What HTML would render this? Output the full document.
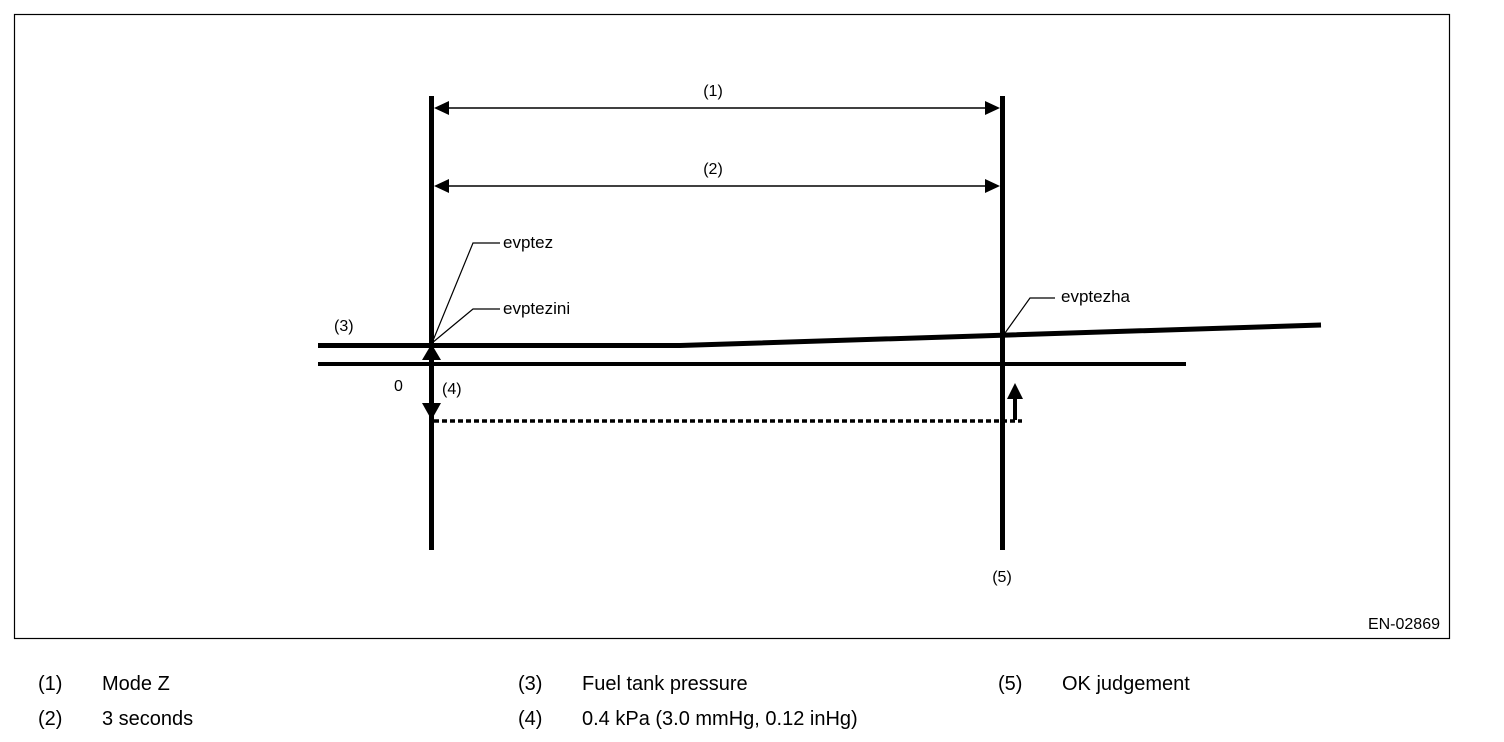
<!DOCTYPE html>
<html><head><style>
body{margin:0;background:#fff;width:1504px;height:742px;overflow:hidden;font-family:"Liberation Sans",Arial,sans-serif}
svg{position:absolute;left:0;top:0}
</style></head><body>
<svg width="1504" height="742" xmlns="http://www.w3.org/2000/svg" font-family="Liberation Sans, Arial, sans-serif">
<rect x="14.5" y="14.5" width="1435" height="624" fill="none" stroke="#000" stroke-width="1.2"/>
<!-- verticals -->
<rect x="429" y="96" width="5" height="454" fill="#000"/>
<rect x="1000" y="96" width="5" height="454" fill="#000"/>
<!-- dimension arrows -->
<line x1="440" y1="108" x2="994" y2="108" stroke="#000" stroke-width="1.5"/>
<polygon points="434,108 449,101 449,115" fill="#000"/>
<polygon points="1000,108 985,101 985,115" fill="#000"/>
<line x1="440" y1="186" x2="994" y2="186" stroke="#000" stroke-width="1.5"/>
<polygon points="434,186 449,179 449,193" fill="#000"/>
<polygon points="1000,186 985,179 985,193" fill="#000"/>
<text x="713" y="96" font-size="16" text-anchor="middle">(1)</text>
<text x="713" y="174" font-size="16" text-anchor="middle">(2)</text>
<!-- fuel tank pressure line -->
<polyline points="318,345.5 680,345.5 1321,325" fill="none" stroke="#000" stroke-width="5"/>
<!-- zero line -->
<line x1="318" y1="364" x2="1186" y2="364" stroke="#000" stroke-width="4"/>
<!-- dotted -->
<line x1="434" y1="421" x2="1022" y2="421" stroke="#000" stroke-width="3.5" stroke-dasharray="5,3"/>
<!-- arrows at left -->
<polygon points="431.5,344 422,360 441,360" fill="#000"/>
<polygon points="431.5,420 422,403 441,403" fill="#000"/>
<!-- right up arrow -->
<rect x="1013" y="395" width="4" height="25" fill="#000"/>
<polygon points="1015,383 1007,399 1023,399" fill="#000"/>
<!-- leaders -->
<polyline points="432,343 473,243 500,243" fill="none" stroke="#000" stroke-width="1.2"/>
<polyline points="432,343 473,309 500,309" fill="none" stroke="#000" stroke-width="1.2"/>
<polyline points="1005,333 1030,298 1055,298" fill="none" stroke="#000" stroke-width="1.2"/>
<text x="503" y="248" font-size="17">evptez</text>
<text x="503" y="314" font-size="17">evptezini</text>
<text x="1061" y="302" font-size="17">evptezha</text>
<text x="334" y="331" font-size="16">(3)</text>
<text x="394" y="391" font-size="16">0</text>
<text x="442" y="394" font-size="16">(4)</text>
<text x="1002" y="582" font-size="16" text-anchor="middle">(5)</text>
<text x="1440" y="629" font-size="16" text-anchor="end">EN-02869</text>
<!-- legend -->
<g font-size="20">
<text x="38" y="690">(1)</text><text x="102" y="690">Mode Z</text>
<text x="38" y="725">(2)</text><text x="102" y="725">3 seconds</text>
<text x="518" y="690">(3)</text><text x="582" y="690">Fuel tank pressure</text>
<text x="518" y="725">(4)</text><text x="582" y="725">0.4 kPa (3.0 mmHg, 0.12 inHg)</text>
<text x="998" y="690">(5)</text><text x="1062" y="690">OK judgement</text>
</g>
</svg>
</body></html>
